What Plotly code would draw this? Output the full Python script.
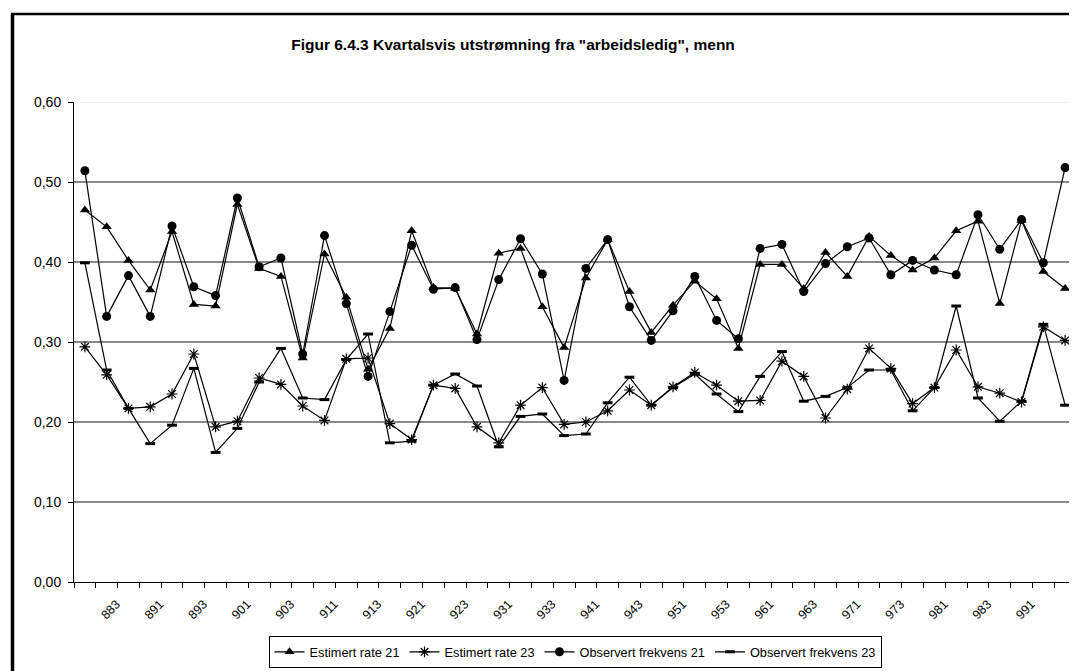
import plotly.graph_objects as go

categories = ["881", "882", "883", "884",
              "891", "892", "893", "894",
              "901", "902", "903", "904",
              "911", "912", "913", "914",
              "921", "922", "923", "924",
              "931", "932", "933", "934",
              "941", "942", "943", "944",
              "951", "952", "953", "954",
              "961", "962", "963", "964",
              "971", "972", "973", "974",
              "981", "982", "983", "984",
              "991", "992"]

est21 = [0.465, 0.444, 0.402, 0.365, 0.438, 0.347, 0.345, 0.472, 0.392, 0.382,
         0.280, 0.410, 0.356, 0.266, 0.317, 0.439, 0.368, 0.367, 0.310, 0.411,
         0.417, 0.344, 0.293, 0.380, 0.428, 0.363, 0.312, 0.346, 0.376, 0.354,
         0.292, 0.397, 0.397, 0.367, 0.412, 0.382, 0.432, 0.408, 0.390, 0.405,
         0.439, 0.451, 0.348, 0.452, 0.388, 0.367]

est23 = [0.294, 0.259, 0.217, 0.219, 0.235, 0.285, 0.194, 0.201, 0.255, 0.247,
         0.220, 0.202, 0.279, 0.280, 0.198, 0.178, 0.246, 0.242, 0.194, 0.174,
         0.221, 0.243, 0.197, 0.200, 0.214, 0.240, 0.221, 0.244, 0.262, 0.246,
         0.226, 0.227, 0.276, 0.257, 0.205, 0.241, 0.292, 0.267, 0.223, 0.243,
         0.290, 0.244, 0.236, 0.225, 0.319, 0.302]

obs21 = [0.514, 0.332, 0.383, 0.332, 0.445, 0.369, 0.358, 0.480, 0.394, 0.405,
         0.285, 0.433, 0.348, 0.257, 0.338, 0.421, 0.366, 0.368, 0.303, 0.378,
         0.429, 0.385, 0.252, 0.392, 0.428, 0.344, 0.302, 0.339, 0.382, 0.327,
         0.304, 0.417, 0.422, 0.363, 0.398, 0.419, 0.430, 0.384, 0.402, 0.390,
         0.384, 0.459, 0.416, 0.453, 0.399, 0.518]

obs23 = [0.399, 0.265, 0.217, 0.173, 0.196, 0.267, 0.162, 0.192, 0.250, 0.292,
         0.230, 0.228, 0.278, 0.310, 0.174, 0.176, 0.246, 0.260, 0.245, 0.169,
         0.207, 0.210, 0.183, 0.185, 0.224, 0.256, 0.221, 0.243, 0.260, 0.235,
         0.213, 0.257, 0.288, 0.226, 0.232, 0.243, 0.265, 0.265, 0.214, 0.243,
         0.345, 0.230, 0.201, 0.226, 0.322, 0.221]

y_ticks = [0.0, 0.1, 0.2, 0.3, 0.4, 0.5, 0.6]
grid_dark = [0.1, 0.2, 0.3, 0.4, 0.5]
x_ticktext = [c if (i % 2 == 0 and i > 0) else "" for i, c in enumerate(categories)]

W, H = 1077, 671
ML, MR, MT, MB = 66, 9, 94, 97
PW, PH = W - ML - MR, H - MT - MB


def px_x(p):
    return (p - ML) / PW


def px_y(p):
    return (H - MB - p) / PH


FONT = "Liberation Sans, Arial, sans-serif"

fig = go.Figure()

series = [
    ("Estimert rate 21", est21, dict(symbol="triangle-up", size=9, color="black")),
    ("Estimert rate 23", est23, dict(symbol="asterisk-open", size=9, color="black",
                                     line=dict(color="black", width=1.2))),
    ("Observert frekvens 21", obs21, dict(symbol="circle", size=9, color="black")),
    ("Observert frekvens 23", obs23, dict(symbol="line-ew-open", size=7, color="black",
                                          line=dict(color="black", width=3))),
]

for name, vals, mk in series:
    fig.add_trace(go.Scatter(
        x=categories, y=vals, name=name, mode="lines+markers",
        line=dict(color="black", width=1.2),
        marker=mk,
    ))

shapes = []
for v in grid_dark:
    shapes.append(dict(type="line", xref="paper", yref="y", x0=0, x1=1, y0=v, y1=v,
                       line=dict(color="#111111", width=1), layer="below"))
shapes.append(dict(type="line", xref="paper", yref="y", x0=0, x1=1, y0=0.6, y1=0.6,
                   line=dict(color="#e4e4e4", width=1), layer="below"))
# chart-area border (left and top, the rest is cropped)
shapes.append(dict(type="line", xref="paper", yref="paper",
                   x0=px_x(4.5), x1=px_x(4.5), y0=px_y(6), y1=px_y(H + 5),
                   line=dict(color="black", width=3.5)))
shapes.append(dict(type="line", xref="paper", yref="paper",
                   x0=px_x(3), x1=px_x(W + 5), y0=px_y(6), y1=px_y(6),
                   line=dict(color="black", width=2.5)))

fig.update_layout(
    width=W, height=H,
    margin=dict(l=ML, r=MR, t=MT, b=MB, autoexpand=False),
    paper_bgcolor="white", plot_bgcolor="white",
    separators=", ",
    font=dict(family=FONT, color="black"),
    title=dict(text="<b>Figur 6.4.3 Kvartalsvis utstrømning fra \"arbeidsledig\", menn</b>",
               x=505 / W, xref="container", xanchor="center",
               y=1 - 37 / H, yref="container", yanchor="middle",
               font=dict(family=FONT, size=15.5, color="black")),
    xaxis=dict(type="category", categoryorder="array", categoryarray=categories,
               tickmode="array", tickvals=categories, ticktext=x_ticktext,
               tickson="boundaries", ticks="outside", ticklen=5, tickcolor="black",
               tickangle=-45, ticklabelstandoff=9, ticklabelshift=-12,
               tickfont=dict(family=FONT, size=12.5, color="black"),
               showline=True, linecolor="black", linewidth=1,
               showgrid=False, zeroline=False, range=[-0.5, len(categories) - 0.5]),
    yaxis=dict(range=[0, 0.6], tickmode="array", tickvals=y_ticks, tickformat=".2f",
               ticks="outside", ticklen=5, tickcolor="black", ticklabelstandoff=4,
               tickfont=dict(family=FONT, size=14, color="black"),
               showline=True, linecolor="black", linewidth=1,
               showgrid=False, zeroline=False),
    legend=dict(orientation="h", x=0.5, xanchor="center", y=px_y(628), yanchor="top",
                bordercolor="black", borderwidth=1, bgcolor="white",
                font=dict(family=FONT, size=12.75, color="black"),
                itemwidth=30, tracegroupgap=0),
    shapes=shapes,
    showlegend=True,
)

fig.write_html("out.html")
